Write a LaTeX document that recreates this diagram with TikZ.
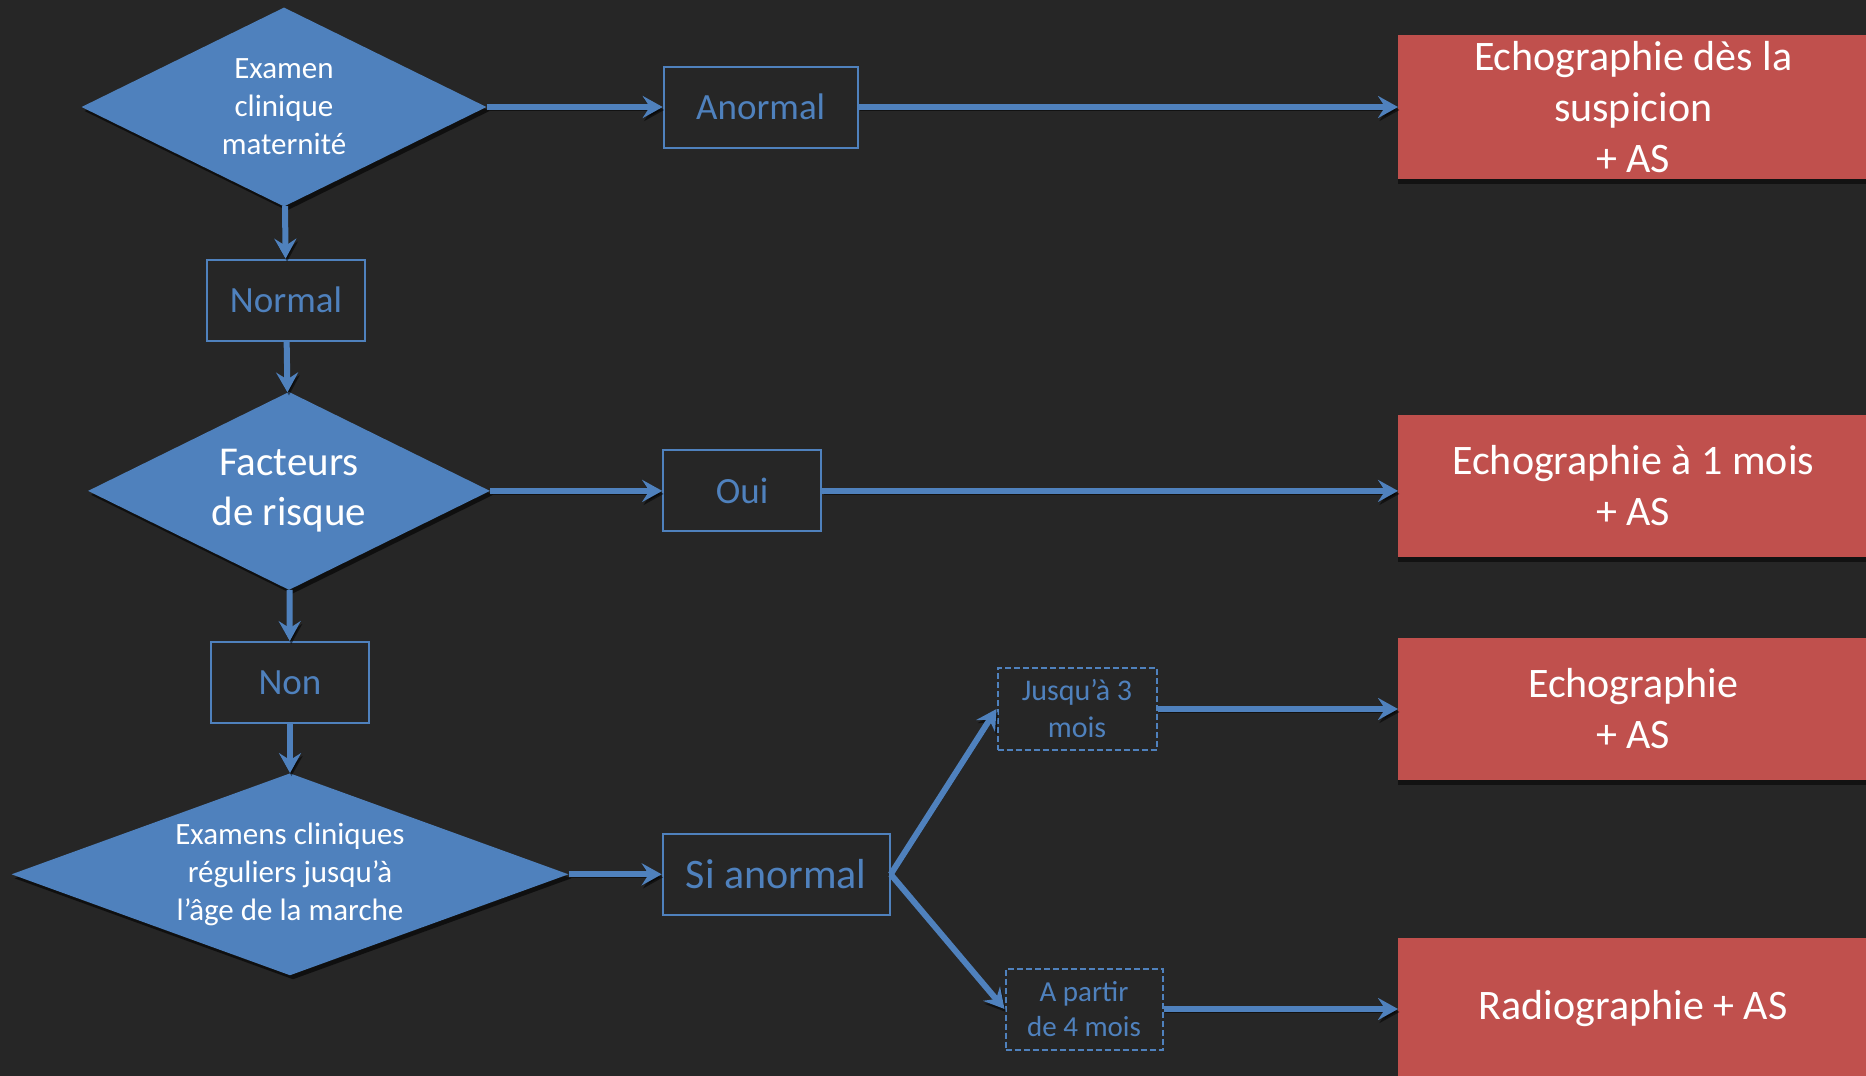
\documentclass[tikz,border=0pt]{standalone}
\usepackage{fontspec}
\setmainfont{Carlito}
\usetikzlibrary{positioning}
\usetikzlibrary{arrows.meta}
\usetikzlibrary{shapes.geometric}
\usetikzlibrary{shadows}
\definecolor{bgdark}{HTML}{262626}
\definecolor{flowblue}{HTML}{4F81BD}
\definecolor{flowred}{HTML}{C0504D}

\begin{document}
\begin{tikzpicture}[x=1pt, y=1pt,
	decision/.style={diamond, fill=flowblue, text=white, inner sep=0pt, align=center,
		drop shadow={shadow xshift=3pt, shadow yshift=-4pt, fill=black, opacity=0.6}},
	answer/.style={rectangle, draw=flowblue, line width=2pt, text=flowblue, inner sep=0pt,
		minimum height=81pt, align=center, font=\fontsize{37}{44}\selectfont},
	delay/.style={answer, dash pattern=on 6pt off 3pt, font=\fontsize{30}{37}\selectfont},
	exam/.style={rectangle, fill=flowred, text=white, anchor=west, minimum width=470pt,
		align=center, font=\fontsize{42}{51}\selectfont,
		drop shadow={shadow xshift=0pt, shadow yshift=-5pt, fill=black, opacity=0.5}},
	flow/.style={draw=flowblue, line width=6pt, -{Stealth[length=20pt, width=22pt, inset=7pt]},
		preaction={draw=black, opacity=0.5, transform canvas={xshift=1.5pt, yshift=-3pt}}}]
		\useasboundingbox (0,0) rectangle (1866,-1076);
		\clip (0,0) rectangle (1866,-1076);
		\fill [bgdark] (0,0) rectangle (1866,-1076);
		% left column
		\node (examen) [decision, aspect=2.03, minimum width=405pt, minimum height=199pt, font=\fontsize{31}{38}\selectfont] at (284,-107) {Examen\\clinique\\maternité};
		\node (normal) [answer, minimum width=158pt, below=52pt of examen, xshift=2pt] {Normal};
		\node (facteurs) [decision, aspect=2.03, minimum width=402pt, minimum height=198pt, font=\fontsize{41}{50}\selectfont, below=50pt of normal, xshift=3pt] {Facteurs\\de risque};
		\node (non) [answer, minimum width=158pt, below=51pt of facteurs, xshift=1pt] {Non};
		\node (suivi) [decision, aspect=2.76, minimum width=557pt, minimum height=202pt, font=\fontsize{31}{38}\selectfont, below=49pt of non] {Examens cliniques\\réguliers jusqu’à\\l’âge de la marche};
		% answers
		\node (anormal) [answer, minimum width=194pt, right=176pt of examen] {Anormal};
		\node (oui) [answer, minimum width=158pt, right=172pt of facteurs] {Oui};
		\node (sianormal) [answer, minimum width=227pt, font=\fontsize{42}{50}\selectfont, right=93pt of suivi] {Si anormal};
		\node (jusqua) [delay, minimum width=159pt, minimum height=82pt] at (1077,-709) {Jusqu’à 3\\mois};
		\node (apartir) [delay, minimum width=157pt, font=\fontsize{29}{35}\selectfont] at (1084,-1009) {A partir\\de 4 mois};
		% exams
		\node (echo1) [exam, minimum height=144pt] at (1398,-107) {Echographie dès la\\suspicion\\+ AS};
		\node (echo2) [exam, minimum height=142pt] at (1398,-486) {Echographie à 1 mois\\+ AS};
		\node (echo3) [exam, minimum height=142pt] at (1398,-709) {Echographie\\+ AS};
		\node (radio) [exam, minimum height=142pt] at (1398,-1009) {Radiographie + AS};
		\draw [flow] (examen) -- (anormal);
		\draw [flow] (anormal) -- (echo1);
		\draw [flow] (examen) -- (normal);
		\draw [flow] (normal) -- (facteurs);
		\draw [flow] (facteurs) -- (oui);
		\draw [flow] (oui.east) -- (oui.east -| echo2.west);
		\draw [flow] (facteurs) -- (non);
		\draw [flow] (non) -- (suivi);
		\draw [flow] (suivi) -- (sianormal);
		\draw [flow] (sianormal.east) -- (jusqua.west);
		\draw [flow] (sianormal.east) -- (apartir.west);
		\draw [flow] (jusqua) -- (echo3);
		\draw [flow] (apartir) -- (radio);
\end{tikzpicture}
\end{document}
